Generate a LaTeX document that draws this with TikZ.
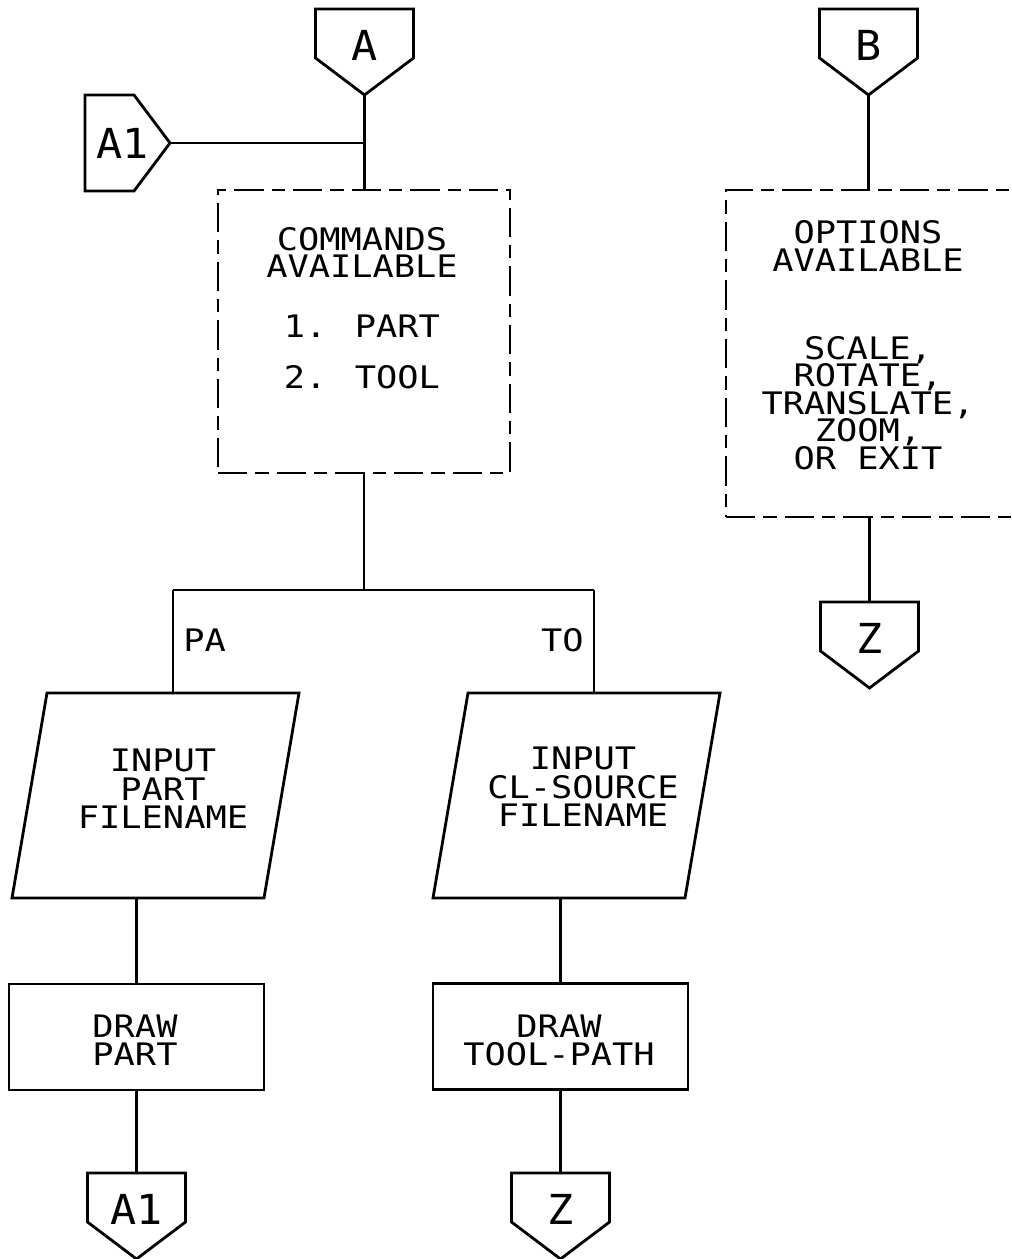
\documentclass[tikz,border=0pt]{standalone}
\usepackage{fontspec}
\newfontfamily\plotfont[FakeStretch=1.14]{DejaVu Sans Mono}
\newfontfamily\conffont[FakeStretch=1.05]{DejaVu Sans Mono}
\begin{document}
\begin{tikzpicture}[x=0.75pt,y=-0.75pt,
  ln/.style={line width=2.1pt, line join=miter},
  dbox/.style={draw, rectangle, inner sep=0pt, line width=2.1pt, dash pattern=on 22pt off 6pt on 10pt off 6pt},
  sbox/.style={draw, rectangle, inner sep=0pt, line width=2.1pt},
  txt/.style={inner sep=0pt, align=center, anchor=north, font=\plotfont\fontsize{23.25pt}{#1}\selectfont},
  lbl/.style={inner sep=0pt, text height=16.95pt, text depth=0pt, font=\plotfont\fontsize{23.25pt}{23.25pt}\selectfont},
  conlbl/.style={inner sep=0pt, text height=22.6pt, text depth=0pt, font=\conffont\fontsize{31pt}{31pt}\selectfont},
  offdown/.pic={
    \draw[ln] (-49,0) -- (49,0) -- (49,49) -- (0,86) -- (-49,49) -- cycle;
    \coordinate (-top) at (0,0);
    \coordinate (-tip) at (0,86);
    \node[conlbl] (-lbl) at (0,36) {#1};
  },
  offright/.pic={
    \draw[ln] (0,-48) -- (49,-48) -- (85,0) -- (49,48) -- (0,48) -- cycle;
    \coordinate (-tip) at (85,0);
    \node[conlbl] (-lbl) at (37.5,0) {#1};
  },
  para/.pic={
    \draw[ln] (-108.5,-102.5) -- (143.5,-102.5) -- (108.5,102.5) -- (-143.5,102.5) -- cycle;
    \coordinate (-top) at (17.5,-102.5);
    \coordinate (-bot) at (-17.5,102.5);
  }
]
\useasboundingbox (0,0) rectangle (1011,1259);
\fill[white] (0,0) rectangle (1011,1259);
\clip (0,0) rectangle (1011,1259);

% connectors (off-page)
\pic (A) at (364.5,9) {offdown=A};
\pic (B) at (868.5,9) {offdown=B};
\pic (A1in) at (85,143) {offright=A1};

% commands box
\node[dbox, minimum width=219pt, minimum height=212.25pt] (cmd) at (364,331.5) {};
\node[txt=20.25pt] (cmdtxt) at (362,227.7) {COMMANDS\\AVAILABLE\\[24.75pt]1. PART\\[18pt]2. TOOL};

% options box
\node[dbox, minimum width=217.5pt, minimum height=245.25pt] (opt) at (871,353.5) {};
\node[txt=20.7pt] (opttxt) at (868,220.7) {OPTIONS\\AVAILABLE\\[45pt]SCALE,\\ROTATE,\\TRANSLATE,\\ZOOM,\\OR EXIT};

% branch
\coordinate (split) at (364,590);
\pic (inp) at (155.5,795.5) {para};
\pic (incl) at (576.5,795.5) {para};
\node[txt=21.4pt] (inptxt) at (163,748.7) {INPUT\\PART\\FILENAME};
\node[txt=21.4pt] (incltxt) at (583,746.7) {INPUT\\CL-SOURCE\\FILENAME};
\node[lbl, anchor=west] (palbl) at (183,640) {PA};
\node[lbl, anchor=east] (tolbl) at (584,640) {TO};

% draw boxes
\node[sbox, minimum width=191.25pt, minimum height=79.5pt] (dp) at (136.5,1037) {};
\node[sbox, minimum width=191.25pt, minimum height=79.5pt] (dtp) at (560.5,1036.5) {};
\node[txt=21pt] (dptxt) at (135,1014.7) {DRAW\\PART};
\node[txt=21pt] (dtptxt) at (559,1014.7) {DRAW\\TOOL-PATH};

\pic (A1out) at (136.5,1173) {offdown=A1};
\pic (Zl) at (560.5,1173) {offdown=Z};
\pic (Zr) at (869.5,602) {offdown=Z};

% connections
\draw[ln] (A-tip) -- (A-tip |- cmd.north);
\draw[ln] (A1in-tip) -- (A-tip |- A1in-tip);
\draw[ln] (cmd.south) -- (split);
\draw[ln] (inp-top |- split) -- (incl-top |- split);
\draw[ln] (inp-top |- split) -- (inp-top);
\draw[ln] (incl-top |- split) -- (incl-top);
\draw[ln] (dp.north |- inp-bot) -- (dp.north);
\draw[ln] (dtp.north |- incl-bot) -- (dtp.north);
\draw[ln] (dp.south) -- (A1out-top);
\draw[ln] (dtp.south) -- (Zl-top);
\draw[ln] (B-tip) -- (B-tip |- opt.north);
\draw[ln] (Zr-top |- opt.south) -- (Zr-top);
\end{tikzpicture}
\end{document}
